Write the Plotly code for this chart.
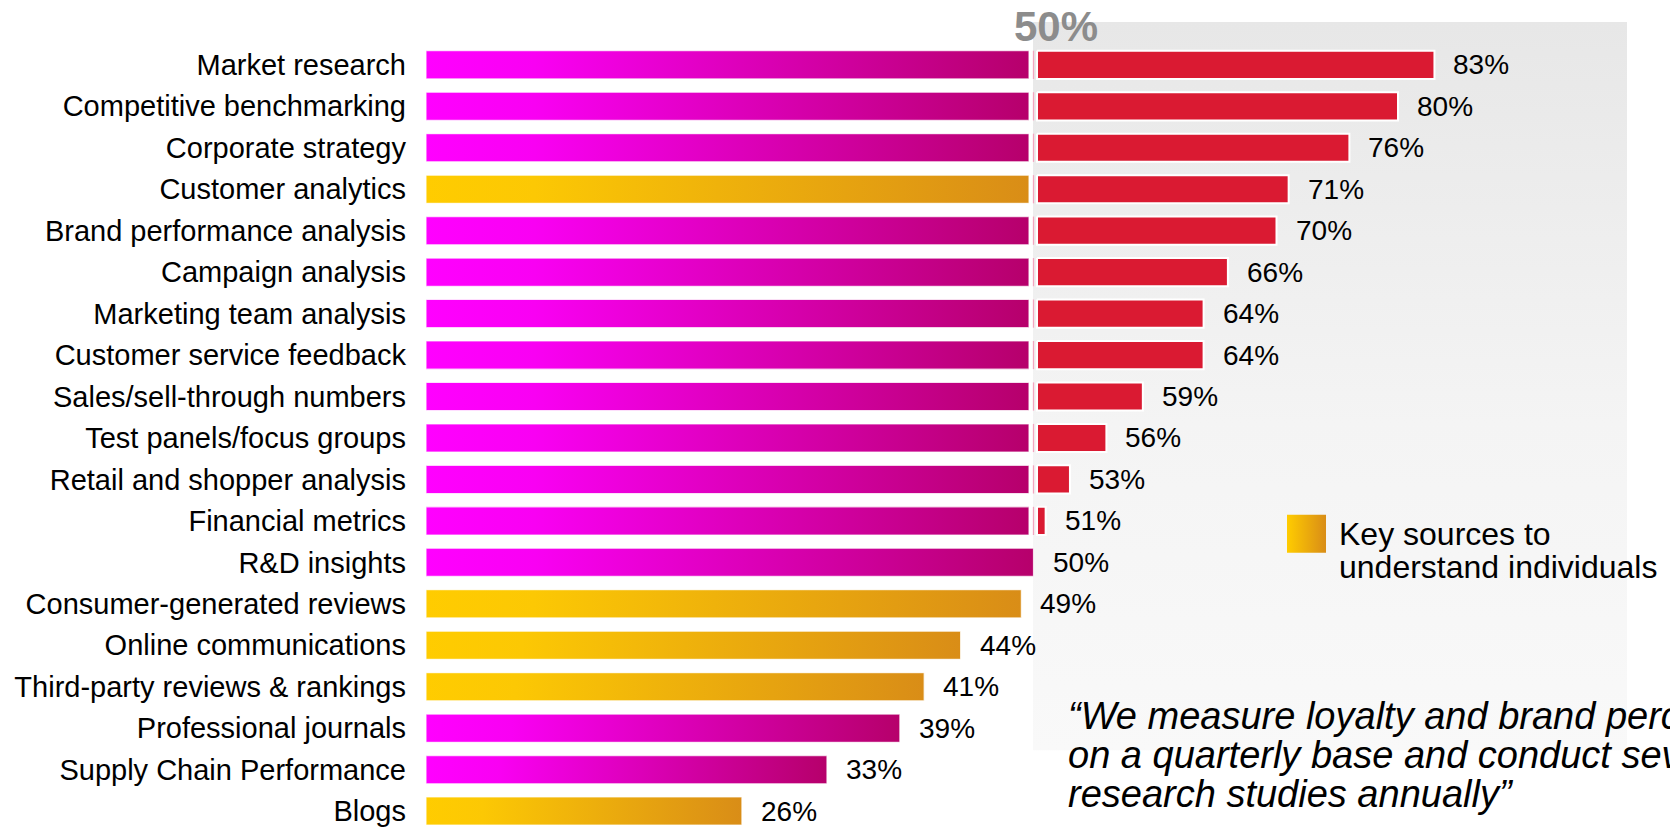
import plotly.graph_objects as go

# ---------------- data ----------------
categories = [
    "Market research", "Competitive benchmarking", "Corporate strategy",
    "Customer analytics", "Brand performance analysis", "Campaign analysis",
    "Marketing team analysis", "Customer service feedback",
    "Sales/sell-through numbers", "Test panels/focus groups",
    "Retail and shopper analysis", "Financial metrics", "R&D insights",
    "Consumer-generated reviews", "Online communications",
    "Third-party reviews & rankings", "Professional journals",
    "Supply Chain Performance", "Blogs",
]
values = [83, 80, 76, 71, 70, 66, 64, 64, 59, 56, 53, 51, 50, 49, 44, 41, 39, 33, 26]
key_individual = [False, False, False, True, False, False, False, False, False, False,
                  False, False, False, True, True, True, False, False, True]
threshold = 50
legend_text = ["Key sources to", "understand individuals"]
quote_lines = [
    "\u201cWe measure loyalty and brand perception",
    "on a quarterly base and conduct several",
    "research studies annually\u201d",
]

# ---------------- layout geometry / styles ----------------
W, H = 1670, 827
X0_PX = 426          # pixel of 0 %
PX_PER_PCT = 12.15
ROW0_PX = 65         # pixel centre of first row
ROW_PX = 41.56
HALF = 0.34
FONT = "Liberation Sans, Arial, sans-serif"

MAGENTA = [[0, "#FF00FF"], [0.18, "#F900F3"], [1, "#B6006B"]]
YELLOW = [[0, "#FFCC00"], [0.18, "#FCC804"], [1, "#D98D17"]]
RED = "#DA1A32"
SPLIT_PINK = "#F3A6C0"


def px2x(px):
    return (px - X0_PX) / PX_PER_PCT


def py2y(py):
    return (py - ROW0_PX) / ROW_PX


GAP_L = 4.5 / PX_PER_PCT     # gap left of the 50 % split
GAP_R = 3.5 / PX_PER_PCT     # gap right of the 50 % split

fig = go.Figure()

# grey panel behind the upper part (above 50 %)
bx0, bx1 = px2x(1033), px2x(1627)
by0, by1 = py2y(22), py2y(752)
fig.add_trace(go.Scatter(
    x=[bx0, bx1, bx1, bx0, bx0], y=[by0, by0, by1, by1, by0],
    mode="lines", line=dict(width=0), fill="toself",
    fillgradient=dict(type="vertical",
                      colorscale=[[0, "#E7E7E7"], [0.55, "#F4F4F4"], [1, "#F9F9F9"]],
                      start=by0, stop=by1),
    hoverinfo="skip", showlegend=False))

# base bars (0 .. min(v, 50)) with horizontal gradient
for i, (cat, v, ind) in enumerate(zip(categories, values, key_individual)):
    end = threshold - GAP_L if v > threshold else v
    fig.add_trace(go.Scatter(
        x=[0, end, end, 0, 0],
        y=[i - HALF, i - HALF, i + HALF, i + HALF, i - HALF],
        mode="lines", line=dict(color="rgba(255,255,255,0.75)", width=1.2),
        fill="toself",
        fillgradient=dict(type="horizontal", colorscale=YELLOW if ind else MAGENTA),
        name=cat, hoverinfo="skip", showlegend=False))

# red segments above 50 % (with thin split mark at 50 %)
for i, (cat, v) in enumerate(zip(categories, values)):
    if v > threshold:
        fig.add_trace(go.Scatter(
            x=[threshold, threshold], y=[i - HALF, i + HALF],
            mode="lines", line=dict(color=SPLIT_PINK, width=1.3),
            hoverinfo="skip", showlegend=False))
        x0 = threshold + GAP_R
        fig.add_trace(go.Scatter(
            x=[x0, v, v, x0, x0],
            y=[i - HALF, i - HALF, i + HALF, i + HALF, i - HALF],
            mode="lines", line=dict(color="white", width=2),
            fill="toself", fillcolor=RED,
            name=cat, hoverinfo="skip", showlegend=False))

# legend swatch
sx0, sx1 = px2x(1287), px2x(1326)
sy0, sy1 = py2y(516), py2y(554)
fig.add_trace(go.Scatter(
    x=[sx0, sx1, sx1, sx0, sx0], y=[sy0, sy0, sy1, sy1, sy0],
    mode="lines", line=dict(width=0), fill="toself",
    fillgradient=dict(type="horizontal", colorscale=[[0, "#FFCC00"], [1, "#D98D17"]]),
    hoverinfo="skip", showlegend=False))

annotations = []
# value labels
for i, v in enumerate(values):
    annotations.append(dict(
        x=v, y=i, xref="x", yref="y", text=f"{v}%", showarrow=False,
        xanchor="left", yanchor="middle", xshift=17,
        font=dict(family=FONT, size=28, color="black")))

# 50 % header
annotations.append(dict(
    x=threshold, y=py2y(27), xref="x", yref="y", text=f"<b>{threshold}%</b>",
    showarrow=False, xanchor="left", yanchor="middle", xshift=-22,
    font=dict(family=FONT, size=42, color="#8C8C8C")))

# legend text
for k, (line, base) in enumerate(zip(legend_text, [546, 580])):
    annotations.append(dict(
        x=px2x(1337), y=py2y(base - 0.35 * 32), xref="x", yref="y", text=line,
        showarrow=False, xanchor="left", yanchor="middle",
        font=dict(family=FONT, size=32, color="black")))

# quote
for k, (line, base) in enumerate(zip(quote_lines, [731, 770, 809])):
    annotations.append(dict(
        x=px2x(1066), y=py2y(base - 0.35 * 38), xref="x", yref="y",
        text=f"<i>{line}</i>",
        showarrow=False, xanchor="left", yanchor="middle",
        font=dict(family=FONT, size=38, color="black")))

x_max = (W - X0_PX) / PX_PER_PCT
y_top = py2y(0)
y_bot = py2y(H)

fig.update_layout(
    width=W, height=H,
    margin=dict(l=X0_PX, r=0, t=0, b=0, pad=0),
    paper_bgcolor="white", plot_bgcolor="white",
    showlegend=False,
    annotations=annotations,
    xaxis=dict(range=[0, x_max], visible=False, showgrid=False, zeroline=False,
               fixedrange=True),
    yaxis=dict(range=[y_bot, y_top], tickmode="array",
               tickvals=list(range(len(categories))), ticktext=categories,
               showgrid=False, zeroline=False, showline=False, ticks="",
               ticklabelstandoff=19, ticklabeloverflow="allow",
               tickfont=dict(family=FONT, size=29, color="black"),
               fixedrange=True),
)

fig.write_html("out.html", config={"displayModeBar": False})
